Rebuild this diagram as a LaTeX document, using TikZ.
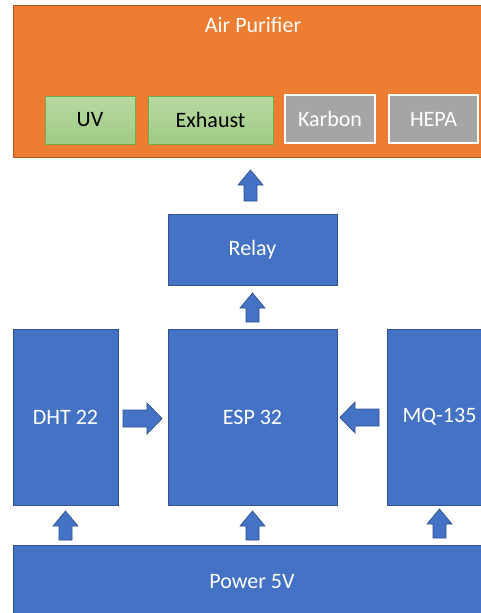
\documentclass[tikz,border=0pt]{standalone}
\usepackage{fontspec}
\setmainfont{Carlito}
\definecolor{blu}{HTML}{4472C4}
\definecolor{bluedge}{HTML}{2F528F}
\definecolor{orng}{HTML}{ED7D31}
\definecolor{orngedge}{HTML}{AE5A21}
\definecolor{grn}{HTML}{A9D18E}
\definecolor{grntop}{HTML}{B8D9A3}
\definecolor{grnbot}{HTML}{A0CB85}
\definecolor{grnedge}{HTML}{70AD47}
\definecolor{gry}{HTML}{A5A5A5}
\newcommand\myvarrow[3]{% cx, ybottom, ytop
  \filldraw[arrowshape] ({#1-6.5},#2) -- ({#1+6.5},#2) -- ({#1+6.5},{#3+15}) -- ({#1+12.5},{#3+15}) -- (#1,#3) -- ({#1-12.5},{#3+15}) -- ({#1-6.5},{#3+15}) -- cycle;}
\newcommand\myharrow[4]{% cy, xtail, xtip, sign
  \filldraw[arrowshape] (#2,{#1-8.5}) -- ({#3-15*#4},{#1-8.5}) -- ({#3-15*#4},{#1-15.5}) -- (#3,#1) -- ({#3-15*#4},{#1+15.5}) -- ({#3-15*#4},{#1+8.5}) -- (#2,{#1+8.5}) -- cycle;}
\begin{document}
\begin{tikzpicture}[x=1pt,y=-1pt,
  txt/.style={font=\fontsize{22}{26}\selectfont, inner sep=0pt},
  box/.style={txt, draw=bluedge, fill=blu, line width=0.8pt, text=white, outer sep=0pt},
  obox/.style={draw=orngedge, fill=orng, line width=0.8pt, inner sep=0pt, outer sep=0pt},
  gbox/.style={txt, draw=grnedge, top color=grntop, bottom color=grnbot, line width=0.6pt, text=black},
  graybox/.style={txt, draw=white, fill=gry, line width=1.6pt, text=white},
  arrowshape/.style={fill=blu, draw=bluedge, line width=0.7pt, line join=miter}]
\useasboundingbox (0,0) rectangle (481,613);
\clip (0,0) rectangle (481,613);
\fill[white] (0,0) rectangle (481,613);
% Air purifier
\node[obox, minimum width=480pt, minimum height=152pt, anchor=north west] (air) at (13,5) {};
\node[txt, text=white] (airlbl) at (253,25) {Air Purifier};
\node[gbox, minimum width=90pt, minimum height=48pt] (uv) at (90,120) {UV};
\node[gbox, minimum width=125pt, minimum height=48pt] (exh) at (210.5,120) {Exhaust};
\node[graybox, minimum width=90pt, minimum height=48pt] (karbon) at (330,119) {Karbon};
\node[graybox, minimum width=89pt, minimum height=48pt] (hepa) at (433.5,119) {HEPA};
% main blocks
\node[box, minimum width=169pt, minimum height=71pt] (relay) at (252.5,249.5) {Relay};
\node[box, minimum width=169pt, minimum height=176pt] (esp) at (252.5,417) {ESP 32};
\node[box, minimum width=105pt, minimum height=176pt] (dht) at (65.5,417) {DHT 22};
\node[box, minimum width=105pt, minimum height=176pt] (mq) at (439.5,417) {MQ-135};
\node[box, minimum width=480pt, minimum height=74pt, anchor=north west] (pwr) at (13,545) {};
\node[txt, text=white] (pwrlbl) at (252,582) {Power 5V};
% block arrows
\myvarrow{250.5}{201}{170}
\myvarrow{252.5}{322}{293}
\myvarrow{65.5}{540}{511}
\myvarrow{252.5}{540}{511}
\myvarrow{439.5}{538}{509}
\myharrow{418.5}{123}{162}{1}
\myharrow{417.5}{379}{340}{-1}
\end{tikzpicture}
\end{document}
